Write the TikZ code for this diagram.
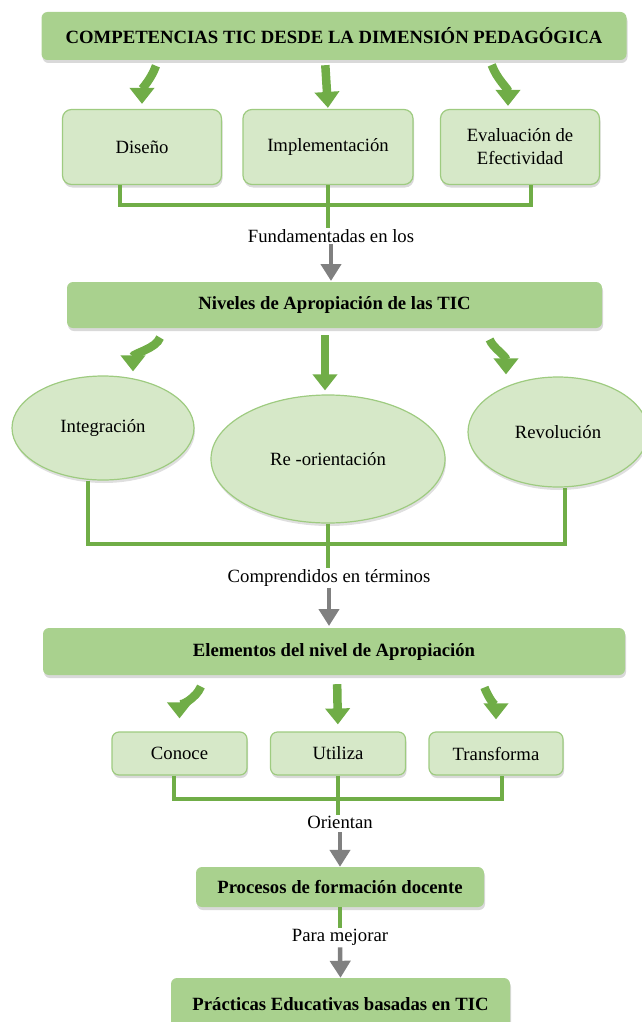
\documentclass[tikz,border=0pt]{standalone}
\usepackage{fontspec}
\setmainfont{Liberation Serif}
\usetikzlibrary{arrows.meta, shapes.geometric, shadows}
\definecolor{headgreen}{RGB}{169,209,142}
\definecolor{boxgreen}{RGB}{214,232,200}
\definecolor{edgegreen}{RGB}{158,203,128}
\definecolor{linegreen}{RGB}{112,173,71}
\definecolor{arrowgray}{RGB}{128,128,128}

\begin{document}
\begin{tikzpicture}[x=1pt, y=1pt,
        titlebox/.style={fill=headgreen, rounded corners=6pt, inner sep=0pt, font=\fontsize{18.7}{22}\selectfont\bfseries, drop shadow={opacity=0.3, shadow xshift=1pt, shadow yshift=-3pt}},
        itembox/.style={draw=edgegreen, line width=1.2pt, fill=boxgreen, rounded corners=9pt, inner sep=0pt, align=center, font=\fontsize{18.7}{23}\selectfont, drop shadow={opacity=0.3, shadow xshift=1pt, shadow yshift=-3pt}},
        levelell/.style={ellipse, draw=edgegreen, line width=1.2pt, fill=boxgreen, inner sep=0pt, font=\fontsize{18.7}{22}\selectfont, drop shadow={opacity=0.25, shadow xshift=1pt, shadow yshift=-3pt}},
        notetext/.style={font=\fontsize{18.7}{22}\selectfont, inner sep=1pt},
        linkline/.style={draw=linegreen, line width=4pt},
        growarrow/.style={draw=linegreen, line width=8.5pt, -{Triangle[width=24pt,length=16pt]}},
        leadarrow/.style={draw=arrowgray, line width=4.5pt, -{Triangle[width=20pt,length=17pt]}}]

        \useasboundingbox (0,0) rectangle (642,-1022);

        % Competencias
        \node[titlebox, minimum width=585, minimum height=48] (comp) at (334,-36) {COMPETENCIAS TIC DESDE LA DIMENSIÓN PEDAGÓGICA};
        \node[itembox, minimum width=159, minimum height=75] (dis) at (142,-147) {Diseño};
        \node[itembox, minimum width=170, minimum height=75] (imp) at (328,-147) {Implementación};
        \node[itembox, minimum width=159, minimum height=75] (eva) at (520,-147) {Evaluación de\\Efectividad};

        \draw[growarrow, shorten <=6pt, shorten >=5pt] ([xshift=-176pt]comp.south) to[out=250, in=90] (dis.north);
        \draw[growarrow, shorten <=5pt, shorten >=1pt] ([xshift=-9pt]comp.south) -- (imp.north);
        \draw[growarrow, shorten <=5pt, shorten >=3pt] ([xshift=156pt]comp.south) to[out=-70, in=90] ([xshift=-12pt]eva.north);

        \node[notetext] (fund) at (331,-236) {Fundamentadas en los};
        \coordinate (j1) at (328,-205);
        \draw[linkline] ([xshift=-22pt]dis.south) |- (j1) -| ([xshift=11pt]eva.south);
        \draw[linkline] (imp.south) -- (fund.north -| imp.south);
        \draw[leadarrow] (fund.south) -- (fund.south |- 0,-281);

        % Niveles
        \node[titlebox, minimum width=535, minimum height=46] (niv) at (334.5,-305) {Niveles de Apropiación de las TIC};
        \node[levelell, minimum width=182, minimum height=104] (int) at (103,-428) {Integración};
        \node[levelell, minimum width=234, minimum height=128] (reo) at (328,-459) {Re -orientación};
        \node[levelell, minimum width=180, minimum height=110] (rev) at (558,-432) {Revolución};

        \draw[growarrow, shorten <=10pt, shorten >=4pt] ([xshift=-171pt]niv.south) to[out=250, in=90] ([xshift=30pt]int.north);
        \draw[growarrow, shorten <=7pt, shorten >=4pt] (niv.south -| 325,0) -- (reo.north -| 325,0);
        \draw[growarrow, shorten <=12pt, shorten >=2pt] ([xshift=151pt]niv.south) to[out=-70, in=90] ([xshift=-52pt]rev.north);

        \node[notetext] (compr) at (329,-578) {Comprendidos en términos};
        \coordinate (j2) at (327,-544);
        \draw[linkline] ([xshift=-15pt]int.south) |- (j2) -| ([xshift=7pt]rev.south);
        \draw[linkline] (reo.south) -- (compr.north -| reo.south);
        \draw[leadarrow] (compr.south) -- (compr.south |- 0,-626);

        % Elementos
        \node[titlebox, minimum width=582, minimum height=47] (ele) at (334,-651.5) {Elementos del nivel de Apropiación};
        \node[itembox, rounded corners=7pt, minimum width=135, minimum height=43] (con) at (179.5,-753.5) {Conoce};
        \node[itembox, rounded corners=7pt, minimum width=135, minimum height=43] (uti) at (338,-753.5) {Utiliza};
        \node[itembox, rounded corners=7pt, minimum width=134, minimum height=43] (tra) at (496,-753.5) {Transforma};

        \draw[growarrow, shorten <=12pt, shorten >=13pt] ([xshift=-129pt]ele.south) to[out=250, in=90] (con.north);
        \draw[growarrow, shorten <=9pt, shorten >=7pt] ([xshift=3pt]ele.south) -- (uti.north);
        \draw[growarrow, shorten <=13pt, shorten >=12pt] ([xshift=146pt]ele.south) to[out=-70, in=90] (tra.north);

        \node[notetext] (ori) at (340,-822) {Orientan};
        \coordinate (j3) at (338,-799);
        \draw[linkline] ([xshift=-6pt]con.south) |- (j3) -| ([xshift=6pt]tra.south);
        \draw[linkline] (uti.south) -- (ori.north -| uti.south);

        % Procesos
        \node[titlebox, minimum width=288, minimum height=40] (pro) at (340,-887) {Procesos de formación docente};
        \draw[leadarrow, shorten <=3pt] (ori.south) -- (pro.north);

        \node[notetext] (mej) at (340,-937) {Para mejorar};
        \draw[linkline] (pro.south) -- (mej.north);

        % Practicas
        \node[titlebox, minimum width=339, minimum height=52] (pra) at (340.5,-1004) {Prácticas Educativas basadas en TIC};
        \draw[leadarrow, shorten <=1pt] (mej.south) -- (pra.north);
    \end{tikzpicture}
\end{document}
